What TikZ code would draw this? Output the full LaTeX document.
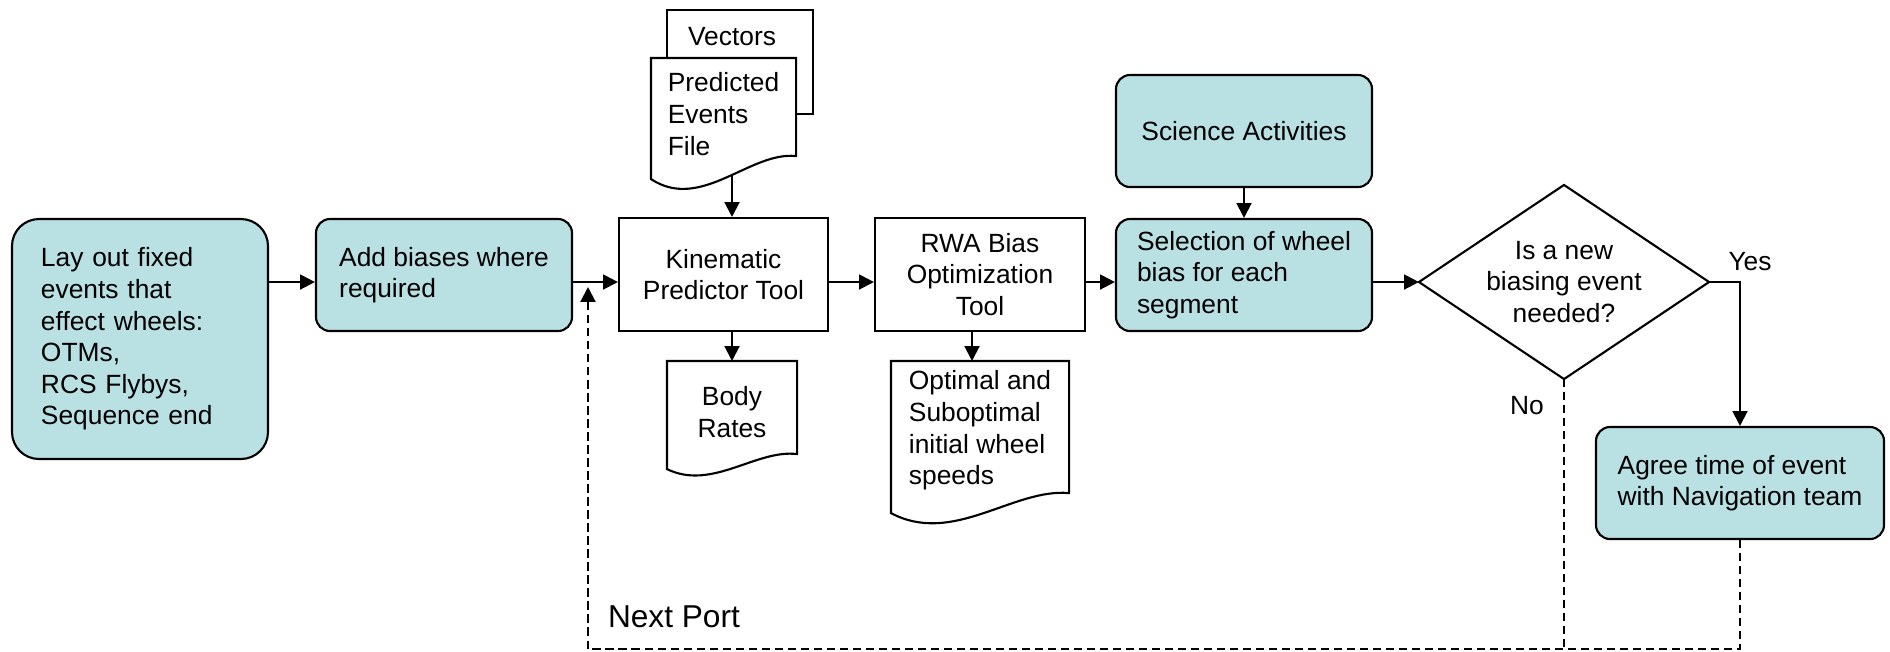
\documentclass[tikz,border=0pt]{standalone}
\usepackage{fontspec}
\setmainfont{Liberation Sans}
\usetikzlibrary{arrows.meta}
\definecolor{tealbox}{RGB}{185,224,227}
\tikzset{every node/.style={font=\fontsize{7.5}{9}\selectfont, inner sep=0pt},
  roundbox/.style={draw, fill=tealbox, rounded corners=0.14cm, minimum width=2.56cm, minimum height=1.12cm, align=left},
  toolbox/.style={draw, minimum width=2.09cm, minimum height=1.13cm, align=center},
  flowarrow/.style={-{Triangle[length=4.2pt,width=4.2pt]}},
  backarrow/.style={flowarrow, dash pattern=on 2.3pt off 1.4pt}}

\begin{document}
\begin{tikzpicture}[line width=0.6pt]
   \useasboundingbox (0,0) rectangle (18.9,-6.51);
   \coordinate (mid) at (0,-2.82);
   \coordinate (bot) at (5.88,-6.49);
   % main row
   \node[roundbox, rounded corners=0.27cm, minimum height=2.40cm, text width=1.98cm, inner xsep=0.29cm] (lay) at (1.40,-3.39)
     {Lay out fixed\\events that\\effect wheels:\\OTMs,\\RCS Flybys,\\Sequence end};
   \node[roundbox] (add) at (4.44,-2.75) {Add biases where\\required};
   \node[toolbox] (kin) at (7.235,-2.745) {Kinematic\\Predictor Tool};
   \node[toolbox, minimum width=2.10cm] (rwa) at (9.80,-2.745) {RWA Bias\\Optimization\\Tool};
   \node[roundbox] (sci) at (12.44,-1.31) {Science Activities};
   \node[roundbox] (sel) at (12.44,-2.75) {Selection of wheel\\bias for each\\segment};
   \node[minimum width=2.88cm, minimum height=1.92cm, align=center] (dec) at (15.64,-2.82) {Is a new\\biasing event\\needed?};
   \draw (dec.west) -- (dec.north) -- (dec.east) -- (dec.south) -- cycle;
   \node[roundbox, minimum width=2.88cm] (agr) at (17.40,-4.83) {Agree time of event\\with Navigation team};
   % documents
   \node[minimum width=1.44cm, minimum height=1.02cm, label={[anchor=center,xshift=-0.08cm,yshift=-0.27cm]north:Vectors}] (vec) at (7.40,-0.62) {};
   \node[minimum width=1.43cm, minimum height=1.10cm, align=left] (pef) at (7.235,-1.14) {Predicted\\Events\\File};
   \node[minimum width=1.28cm, minimum height=1.00cm, align=center] (body) at (7.32,-4.12) {Body\\Rates};
   \node[minimum width=1.76cm, minimum height=1.37cm, align=left] (opt) at (9.80,-4.305) {Optimal and\\Suboptimal\\initial wheel\\speeds};
   \draw (vec.west |- pef.north) -- (vec.north west) -- (vec.north east) -- (vec.south east) -- (pef.east |- vec.south);
   \draw (pef.north west) -- (pef.north east) -- ([yshift=0.14cm]pef.south east)
     .. controls ([xshift=-0.46cm,yshift=0.19cm]pef.south east) and ([xshift=0.50cm,yshift=-0.42cm]pef.south west) .. ([yshift=-0.09cm]pef.south west) -- cycle;
   \draw (body.north west) -- (body.north east) -- ([yshift=0.09cm]body.south east)
     .. controls ([xshift=-0.41cm,yshift=0.14cm]body.south east) and ([xshift=0.45cm,yshift=-0.28cm]body.south west) .. ([yshift=-0.06cm]body.south west) -- cycle;
   \draw (opt.north west) -- (opt.north east) -- ([yshift=0.07cm]opt.south east)
     .. controls ([xshift=-0.56cm,yshift=0.12cm]opt.south east) and ([xshift=0.62cm,yshift=-0.46cm]opt.south west) .. ([yshift=-0.13cm]opt.south west) -- cycle;
   % connectors
   \draw[flowarrow] (lay.east |- mid) -- (add.west |- mid);
   \draw[flowarrow] (add.east |- mid) -- (kin.west |- mid);
   \draw[flowarrow] (kin.east |- mid) -- (rwa.west |- mid);
   \draw[flowarrow] (rwa.east |- mid) -- (sel.west |- mid);
   \draw[flowarrow] (sel.east |- mid) -- (dec.west);
   \draw[flowarrow] (dec.east) -| (agr.north);
   \draw[flowarrow] (sci.south) -- (sel.north);
   \draw[flowarrow] ([yshift=-0.05cm]pef.south -| body.north) -- (body.north |- kin.north);
   \draw[flowarrow] (body.north |- kin.south) -- (body.north);
   \draw[flowarrow] ([xshift=-0.08cm]rwa.south) -- ([xshift=-0.08cm]opt.north);
   \draw[backarrow] (agr.south) |- (bot) -- ([yshift=-0.05cm]bot |- mid);
   \draw[backarrow, -] (dec.south) -- (dec.south |- bot);
   \node (yes) at (17.50,-2.62) {Yes};
   \node (no) at (15.27,-4.06) {No};
   \node[anchor=west, font=\fontsize{9}{11}\selectfont] (nxt) at (6.07,-6.17) {Next Port};
\end{tikzpicture}
\end{document}
